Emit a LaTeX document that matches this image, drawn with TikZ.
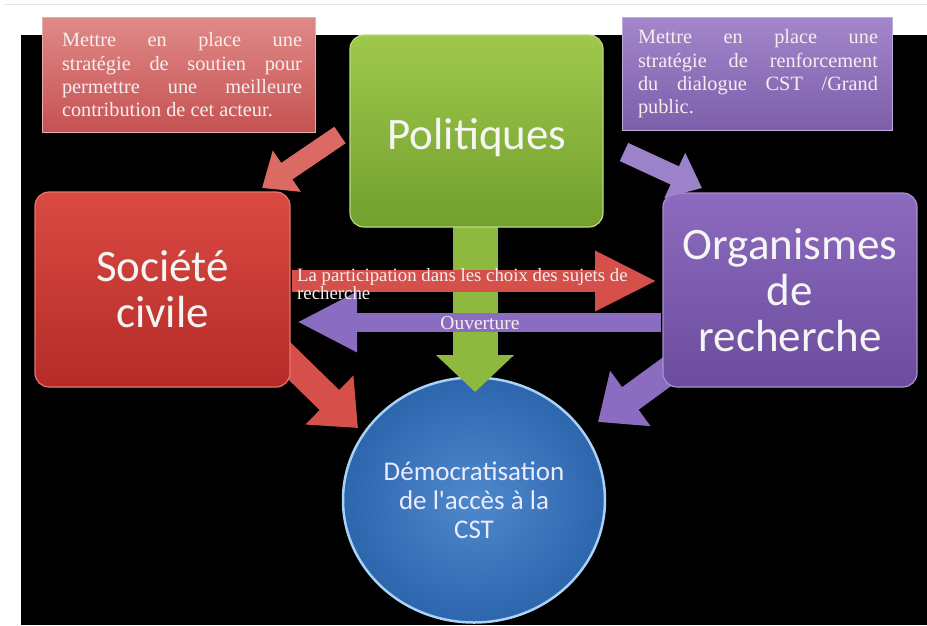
\documentclass[tikz,border=0pt]{standalone}
\usepackage{fontspec}
\setmainfont{Liberation Serif}
\newfontfamily\calfont{Carlito}
\usetikzlibrary{arrows.meta,shapes.geometric}
\definecolor{socTop}{HTML}{DA4A42}
\definecolor{socBot}{HTML}{B52B28}
\definecolor{calRTop}{HTML}{E08A88}
\definecolor{calRBot}{HTML}{C55252}
\definecolor{polTop}{HTML}{9FC84C}
\definecolor{polBot}{HTML}{72A02E}
\definecolor{orgTop}{HTML}{8C6BC0}
\definecolor{orgBot}{HTML}{6C4C9C}
\definecolor{calPTop}{HTML}{A486CC}
\definecolor{calPBot}{HTML}{7C5EAA}
\definecolor{arrRed}{HTML}{D5504A}
\definecolor{arrGreen}{HTML}{8DBA3E}
\definecolor{arrPurple}{HTML}{8A6CC0}
\definecolor{circBlue}{HTML}{3A7BC6}
\definecolor{circEdge}{HTML}{2E66AE}
\definecolor{circRim}{HTML}{A9D2F6}
\definecolor{txtLight}{HTML}{F6EEEE}
\begin{document}
\begin{tikzpicture}[x=1pt,y=-1pt,
  bigbox/.style={rounded corners=14pt, inner sep=0pt, align=center,
    text=white!96!black, line width=1.2pt,
    font=\calfont\fontsize{45}{46}\selectfont},
  callout/.style={inner sep=0pt, line width=0.8pt},
  callouttext/.style={inner sep=0pt, text width=240pt, align=justify,
    text=txtLight, font=\fontsize{20.3}{23.3}\selectfont},
  fatarrow/.style={line width=#1},
  arrowlabel/.style={inner sep=0pt, text=txtLight}
]
\useasboundingbox (0,0) rectangle (927,625);
\fill[white] (0,0) rectangle (927,625);
\draw[gray!20, line width=1pt] (5,4) -- (927,4);
\fill[black] (21,35) rectangle (927,625);

% named end points of the block arrows
\coordinate (rtS) at (340,135);  \coordinate (rtE) at (262,188);
\coordinate (ptS) at (624,152);  \coordinate (ptE) at (702,188);
\coordinate (rbS) at (266,338);  \coordinate (rbE) at (358,428);
\coordinate (pbS) at (694,352);  \coordinate (pbE) at (598,422);
\coordinate (gS) at (475,220);   \coordinate (gE) at (475,392);
\coordinate (rhS) at (292,281);  \coordinate (rhE) at (657,281);
\coordinate (phS) at (661,322);  \coordinate (phE) at (297,322);

% lower diagonal arrows (behind the boxes)
\draw[fatarrow=28pt, arrRed, -{Triangle[length=40pt,width=66pt]}] (rbS) -- (rbE);
\draw[fatarrow=28pt, arrPurple, -{Triangle[length=40pt,width=66pt]}] (pbS) -- (pbE);

% circle
\node[ellipse, minimum width=262pt, minimum height=245pt, inner sep=0pt,
      inner color=circBlue!90!white, outer color=circEdge, draw=circRim, line width=2.5pt,
      align=center, text=white!92!blue,
      font=\calfont\fontsize{27}{29}\selectfont] (dem) at (474,500)
      {Démocratisation\\de l'accès à la\\CST};

% green arrow
\draw[fatarrow=45pt, arrGreen, -{Triangle[length=37pt,width=76pt]}] (gS) -- (gE);

% horizontal arrows
\draw[fatarrow=22pt, arrRed, -{Triangle[length=62pt,width=56pt]}] (rhS) -- (rhE);
\draw[fatarrow=19pt, arrPurple, -{Triangle[length=60pt,width=56pt]}] (phS) -- (phE);
\node[arrowlabel, anchor=north west, align=left,
      font=\fontsize{18.8}{18}\selectfont] (partlbl) at (297,268)
      {La participation dans les choix des sujets de\\recherche};
\node[arrowlabel, font=\fontsize{19.5}{20}\selectfont] (ouvlbl) at (480,323) {Ouverture};

% main boxes
\node[bigbox, minimum width=253pt, minimum height=192pt,
      top color=polTop, bottom color=polBot, draw=polTop!70!white] (pol) at (476.5,131) {};
\node[bigbox] (poltxt) at (477,137) {Politiques};
\node[bigbox, minimum width=255pt, minimum height=195pt,
      top color=socTop, bottom color=socBot, draw=socTop!75!white] (soc) at (162.5,289.5)
      {Société\\civile};
\node[bigbox, minimum width=254pt, minimum height=194pt,
      top color=orgTop, bottom color=orgBot, draw=orgTop!75!white] (org) at (790,290)
      {Organismes\\de\\recherche};

% callouts
\node[callout, minimum width=273pt, minimum height=115pt,
      top color=calRTop, bottom color=calRBot, draw=calRTop!70!white] (calL) at (178.5,74.5) {};
\node[callouttext] (calLtxt) at (182,75)
  {Mettre en place une\linebreak stratégie de soutien pour\linebreak permettre une meilleure\linebreak contribution de cet acteur.};
\node[callout, minimum width=270pt, minimum height=113pt,
      top color=calPTop, bottom color=calPBot, draw=calPTop!70!white] (calR) at (757,73.5) {};
\node[callouttext] (calRtxt) at (758,74)
  {Mettre en place une\linebreak stratégie de renforcement\linebreak du dialogue CST /Grand\linebreak public.};

% upper diagonal arrows
\draw[fatarrow=20pt, arrRed!85!white, -{Triangle[length=30pt,width=48pt]}] (rtS) -- (rtE);
\draw[fatarrow=20pt, arrPurple!85!white, -{Triangle[length=30pt,width=48pt]}] (ptS) -- (ptE);
\end{tikzpicture}
\end{document}
